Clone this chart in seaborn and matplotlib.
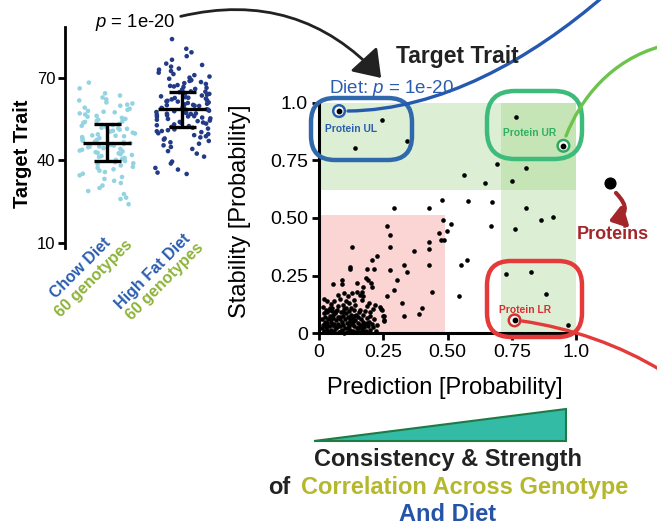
import numpy as np
import pandas as pd
import seaborn as sns
import matplotlib
matplotlib.use("Agg")
import matplotlib.pyplot as plt
from matplotlib.patches import FancyArrowPatch, FancyBboxPatch, Polygon, PathPatch, Rectangle
from matplotlib.path import Path

# ---------------- data ----------------
diets = ["Chow Diet", "High Fat Diet"]
diet_sub = ["60 genotypes", "60 genotypes"]

chow_trait = [68.2, 66.1, 64.3, 63.5, 62.8, 62.1, 61.7, 61.0, 60.6, 60.2, 59.8, 59.1, 58.7, 58.3,
              57.9, 57.4, 57.0, 56.6, 56.1, 55.8, 55.4, 55.0, 54.7, 54.3, 53.9, 53.6, 53.2, 52.8,
              52.5, 52.1, 51.8, 51.4, 51.1, 50.7, 50.4, 50.0, 49.7, 49.4, 49.0, 48.7, 48.4, 48.0,
              47.7, 47.4, 47.1, 46.8, 46.5, 46.2, 45.9, 45.6, 45.3, 45.0, 44.7, 44.4, 44.1, 43.8,
              43.5, 43.2, 42.9, 42.5, 42.2, 41.9, 41.5, 41.2, 40.8, 40.5, 40.1, 39.7, 39.3, 38.9,
              38.5, 38.1, 37.6, 37.2, 36.7, 36.2, 35.7, 35.1, 34.5, 33.9, 33.2, 32.5, 31.7, 30.8,
              29.9, 28.8, 27.7, 26.4, 25.9, 24.0, 48.9, 51.6, 44.9, 54.1, 42.7, 57.6]
hf_trait = [84.0, 80.5, 79.2, 77.8, 76.5, 75.1, 74.6, 74.0, 73.3, 72.9, 72.4, 71.8, 71.3, 70.9,
            70.4, 70.0, 69.6, 69.1, 68.8, 68.4, 68.0, 67.7, 67.3, 67.0, 66.6, 66.3, 65.9, 65.6,
            65.3, 65.0, 64.7, 64.4, 64.1, 63.8, 63.5, 63.2, 62.9, 62.6, 62.4, 62.1, 61.8, 61.6,
            61.3, 61.0, 60.8, 60.5, 60.3, 60.0, 59.8, 59.5, 59.3, 59.0, 58.8, 58.5, 58.3, 58.0,
            57.8, 57.5, 57.3, 57.0, 56.8, 56.5, 56.3, 56.0, 55.8, 55.5, 55.2, 55.0, 54.7, 54.4,
            54.2, 53.9, 53.6, 53.3, 53.0, 52.7, 52.4, 52.1, 51.8, 51.5, 51.2, 50.9, 50.5, 50.2,
            49.8, 49.5, 49.1, 48.7, 48.3, 47.9, 47.5, 47.0, 46.5, 46.0, 45.4, 44.8, 44.1, 43.3,
            42.4, 41.3, 39.5, 38.8, 37.2, 36.6, 35.5, 35.0, 60.1, 57.2, 62.7, 55.9, 64.9, 58.9,
            53.7, 66.8, 50.6, 61.4, 59.7, 56.9]
trait_mean = [46.4, 58.5]
trait_err = [6.7, 6.3]

pred = [0.244, 0.341, 0.140, 0.767, 0.691, 0.805, 0.564, 0.647, 0.751, 0.477, 0.578, 0.674,
        0.293, 0.429, 0.805, 0.481, 0.514, 0.863, 0.909, 0.669, 0.764, 0.265, 0.275, 0.275,
        0.429, 0.429, 0.371, 0.467, 0.497, 0.476, 0.486, 0.575, 0.554, 0.728, 0.824, 0.882,
        0.970, 0.543, 0.438, 0.429, 0.331, 0.341, 0.275, 0.128, 0.224, 0.206, 0.187, 0.214,
        0.119, 0.119, 0.302, 0.292, 0.263, 0.322, 0.332, 0.390, 0.399, 0.241, 0.250, 0.254,
        0.055, 0.088, 0.088, 0.148, 0.171, 0.182, 0.190, 0.201, 0.207, 0.160, 0.171, 0.147,
        0.166, 0.127, 0.114, 0.098, 0.080, 0.072, 0.060, 0.045, 0.030, 0.020, 0.104, 0.118,
        0.135, 0.166, 0.186, 0.195, 0.218, 0.237, 0.244, 0.253, 0.253, 0.140, 0.125, 0.092,
        0.075, 0.052, 0.038, 0.015, 0.160, 0.178, 0.200, 0.210,
        0.010, 0.012, 0.015, 0.018, 0.020, 0.022, 0.025, 0.028, 0.030, 0.032, 0.035, 0.036,
        0.040, 0.042, 0.045, 0.047, 0.050, 0.052, 0.055, 0.058, 0.060, 0.062, 0.065, 0.068,
        0.070, 0.072, 0.075, 0.078, 0.080, 0.082, 0.085, 0.088, 0.090, 0.092, 0.095, 0.098,
        0.100, 0.102, 0.105, 0.108, 0.110, 0.112, 0.115, 0.118, 0.120, 0.122, 0.125, 0.128,
        0.130, 0.133, 0.135, 0.138, 0.140, 0.143, 0.146, 0.150, 0.153, 0.156, 0.160, 0.163,
        0.166, 0.170, 0.173, 0.176, 0.180, 0.184, 0.188, 0.192, 0.196, 0.200, 0.205, 0.210,
        0.215, 0.220, 0.225, 0.018, 0.027, 0.043, 0.063, 0.083, 0.097, 0.117, 0.137, 0.157,
        0.177, 0.197, 0.033, 0.053, 0.073, 0.093, 0.113, 0.133, 0.153, 0.173, 0.105, 0.065,
        0.045, 0.025, 0.085, 0.145, 0.165, 0.185]
stab = [0.925, 0.836, 0.804, 0.939, 0.736, 0.716, 0.688, 0.654, 0.659, 0.580, 0.575, 0.571,
        0.542, 0.542, 0.542, 0.493, 0.474, 0.491, 0.503, 0.464, 0.452, 0.465, 0.425, 0.374,
        0.394, 0.365, 0.355, 0.433, 0.442, 0.404, 0.404, 0.316, 0.297, 0.258, 0.267, 0.170,
        0.036, 0.159, 0.180, 0.297, 0.296, 0.267, 0.275, 0.374, 0.333, 0.316, 0.277, 0.277,
        0.287, 0.280, 0.229, 0.188, 0.159, 0.130, 0.072, 0.081, 0.110, 0.104, 0.072, 0.055,
        0.213, 0.230, 0.213, 0.218, 0.200, 0.240, 0.230, 0.217, 0.200, 0.165, 0.161, 0.180,
        0.180, 0.172, 0.160, 0.175, 0.150, 0.165, 0.140, 0.125, 0.140, 0.150, 0.140, 0.132,
        0.145, 0.143, 0.117, 0.132, 0.122, 0.113, 0.100, 0.074, 0.053, 0.120, 0.110, 0.120,
        0.118, 0.110, 0.100, 0.115, 0.100, 0.095, 0.090, 0.105,
        0.020, 0.060, 0.035, 0.085, 0.010, 0.050, 0.070, 0.025, 0.045, 0.090, 0.005, 0.060,
        0.030, 0.075, 0.015, 0.050, 0.095, 0.035, 0.065, 0.010, 0.040, 0.085, 0.055, 0.020,
        0.100, 0.070, 0.040, 0.005, 0.060, 0.030, 0.090, 0.050, 0.015, 0.075, 0.035, 0.105,
        0.060, 0.020, 0.085, 0.045, 0.005, 0.070, 0.030, 0.095, 0.055, 0.015, 0.080, 0.040,
        0.065, 0.010, 0.100, 0.030, 0.055, 0.080, 0.020, 0.045, 0.070, 0.005, 0.035, 0.060,
        0.015, 0.050, 0.080, 0.025, 0.040, 0.010, 0.065, 0.030, 0.050, 0.015, 0.040, 0.025,
        0.060, 0.010, 0.035, 0.005, 0.100, 0.110, 0.025, 0.070, 0.000, 0.045, 0.075, 0.090,
        0.005, 0.075, 0.015, 0.080, 0.030, 0.090, 0.020, 0.050, 0.020, 0.035, 0.110, 0.095,
        0.060, 0.040, 0.010, 0.005, 0.025, 0.045]

protein_names = ["Protein UL", "Protein UR", "Protein LR"]
protein_pred = [0.078, 0.951, 0.761]
protein_stab = [0.965, 0.814, 0.055]

xticks_main = [0, 0.25, 0.5, 0.75, 1.0]
xticklabels_main = ["0", "0.25", "0.50", "0.75", "1.0"]
yticklabels_main = ["0", "0.25", "0.50", "0.75", "1.0"]
trait_ticks = [10, 40, 70]

# ---------------- style ----------------
sns.set_theme(style="white")
plt.rcParams["font.family"] = ["Liberation Sans", "DejaVu Sans"]
plt.rcParams["mathtext.fontset"] = "custom"
plt.rcParams["mathtext.it"] = "Liberation Sans:italic"
plt.rcParams["mathtext.rm"] = "Liberation Sans"
for k in ["text.color", "axes.labelcolor", "xtick.color", "ytick.color", "axes.edgecolor"]:
    plt.rcParams[k] = "black"

BLUE = "#2a5db0"
OLIVE = "#8db33a"
CHOW_C = "#93d3e2"
HF_C = "#233a86"
RED = "#e53a3a"
GREEN_LOOP = "#3dbb7a"
GREEN_LINE = "#6cc44a"
DARKRED = "#a3262a"

W, H = 657, 527
fig = plt.figure(figsize=(W / 100, H / 100), dpi=100)

def fr(x0, y0, x1, y1):
    return [x0 / W, 1 - y1 / H, (x1 - x0) / W, (y1 - y0) / H]

# ---------------- strip plot ----------------
axS = fig.add_axes(fr(65, 27, 220, 248))
df = pd.DataFrame({"diet": [diets[0]] * len(chow_trait) + [diets[1]] * len(hf_trait),
                   "trait": chow_trait + hf_trait})
np.random.seed(11)
sns.stripplot(data=df, x="diet", y="trait", hue="diet", order=diets, hue_order=diets,
              palette=[CHOW_C, HF_C], jitter=0.38, size=3.3, linewidth=0, legend=False, ax=axS)
for i, (m, e) in enumerate(zip(trait_mean, trait_err)):
    axS.hlines(m, i - 0.32, i + 0.32, color="black", lw=2.4, zorder=5)
    axS.vlines(i, m - e, m + e, color="black", lw=2.4, zorder=5)
    axS.hlines([m - e, m + e], i - 0.18, i + 0.18, color="black", lw=2.4, zorder=5)
axS.set_ylim(8.1, 88.4)
axS.set_xlim(-0.56, 1.5)
axS.set_yticks(trait_ticks)
axS.set_xticks([])
axS.set_xlabel("")
axS.set_ylabel("Target Trait", fontsize=14.5, fontweight="bold")
axS.yaxis.set_label_coords(-0.215, 0.425)
sns.despine(ax=axS, bottom=True)
axS.spines["left"].set_linewidth(2)
axS.tick_params(axis="y", left=True, direction="out", length=5, width=2, labelsize=12, pad=2)
axS.set_facecolor("none")

# ---------------- main scatter ----------------
axM = fig.add_axes(fr(319, 103, 576, 333))
GREEN_SHADE = "#95d07c"
axM.axhspan(0.62, 1.0, color=GREEN_SHADE, alpha=0.32, lw=0, zorder=0)
axM.axvspan(0.71, 1.0, color=GREEN_SHADE, alpha=0.32, lw=0, zorder=0)
axM.add_patch(Rectangle((0, 0), 0.49, 0.515, color="#fbd4d4", lw=0, zorder=0))
sns.scatterplot(x=pred, y=stab, color="black", s=11, linewidth=0, ax=axM, zorder=3, clip_on=False)
ring_colors = [BLUE, "#2fa85f", "#d63030"]
axM.scatter(protein_pred, protein_stab, s=70, facecolor="white", edgecolor=ring_colors,
            linewidth=1.8, zorder=4, clip_on=False)
axM.scatter(protein_pred, protein_stab, s=10, color="black", zorder=5, clip_on=False)
axM.set_xlim(0, 1)
axM.set_ylim(0, 1)
axM.set_xticks(xticks_main)
axM.set_xticklabels(xticklabels_main)
axM.set_yticks(xticks_main)
axM.set_yticklabels(yticklabels_main)
axM.set_xlabel("Prediction [Probability]", fontsize=17)
axM.set_ylabel("Stability [Probability]", fontsize=17)
axM.xaxis.set_label_coords(0.49, -0.19)
axM.yaxis.set_label_coords(-0.265, 0.528)
sns.despine(ax=axM)
for s in ["left", "bottom"]:
    axM.spines[s].set_linewidth(2.2)
axM.tick_params(left=True, bottom=True, direction="out", length=5, width=2, labelsize=14, pad=3)
axM.set_facecolor("none")

# ---------------- overlay annotations ----------------
axO = fig.add_axes([0, 0, 1, 1], zorder=10)
axO.set_xlim(0, W)
axO.set_ylim(H, 0)
axO.axis("off")
axO.patch.set_alpha(0)

# x tick labels of strip plot (two-colour)
for (cx, cy), txt, col in [((81, 268), diets[0], BLUE), ((94, 279), diet_sub[0], OLIVE),
                           ((153, 272), diets[1], BLUE), ((165, 282), diet_sub[1], OLIVE)]:
    axO.text(cx, cy, txt, color=col, fontsize=11.5, fontweight="bold", rotation=45,
             ha="center", va="center", rotation_mode="anchor")

# p-value text and arrow
axO.text(95, 27, "$p$ = 1e-20", fontsize=13.3, ha="left", va="baseline")
arr = FancyArrowPatch((178, 17), (383, 80), connectionstyle="arc3,rad=-0.3",
                      arrowstyle="-|>,head_length=10,head_width=7", lw=2, color="#222222",
                      mutation_scale=1.6)
axO.add_patch(arr)
axO.text(457, 63, "Target Trait", fontsize=16.5, fontweight="bold", ha="center",
         va="baseline", color="#222222")
axO.text(329, 93, "Diet: $p$ = 1e-20", fontsize=13.5, color=BLUE, ha="left", va="baseline")

# loops
axO.add_patch(FancyBboxPatch((311, 98), 101, 62, boxstyle="round,pad=0,rounding_size=24",
                             fill=False, ec="#2f69ac", lw=3.2))
axO.add_patch(FancyBboxPatch((487, 91), 95, 68, boxstyle="round,pad=0,rounding_size=28",
                             fill=False, ec=GREEN_LOOP, lw=3.2))
axO.add_patch(FancyBboxPatch((487, 261), 95, 76, boxstyle="round,pad=0,rounding_size=24",
                             fill=False, ec=RED, lw=3.2))

def bez(p0, p1, p2, p3, col, lw=2.4):
    path = Path([p0, p1, p2, p3], [Path.MOVETO, Path.CURVE4, Path.CURVE4, Path.CURVE4])
    axO.add_patch(PathPatch(path, fill=False, ec=col, lw=lw, capstyle="round"))

bez((348, 111), (440, 110), (530, 60), (605, -5), "#2559b0")
bez((566, 136), (580, 100), (610, 60), (662, 46), GREEN_LINE)
bez((522, 321), (570, 328), (620, 345), (662, 371), RED)

axO.text(325, 132, protein_names[0], fontsize=7.4, fontweight="bold", color="#2a5db0",
         ha="left", va="baseline")
axO.text(503, 136, protein_names[1], fontsize=7.4, fontweight="bold", color="#2fb060",
         ha="left", va="baseline")
axO.text(499, 313, protein_names[2], fontsize=7.4, fontweight="bold", color="#d63030",
         ha="left", va="baseline")

# proteins icon
axO.scatter([610], [183], s=60, color="black", zorder=5)
axO.add_patch(FancyArrowPatch((614, 191), (606, 222), connectionstyle="arc3,rad=-0.9",
                              arrowstyle="-|>,head_length=7,head_width=5", lw=3,
                              color=DARKRED, mutation_scale=1.3))
axO.text(613, 239, "Proteins", fontsize=13, fontweight="bold", color=DARKRED,
         ha="center", va="baseline")

# wedge
axO.add_patch(Polygon([(314, 441), (566, 409), (566, 441)], closed=True,
                      fc="#33bba6", ec="#1f7a45", lw=1.5))

axO.text(448, 466, "Consistency & Strength", fontsize=17, fontweight="bold",
         color="#222222", ha="center", va="baseline")
axO.text(268, 494, "of", fontsize=17, fontweight="bold", color="#222222",
         ha="left", va="baseline")
axO.text(628, 494, "Correlation Across Genotype", fontsize=17, fontweight="bold",
         color="#b5b82d", ha="right", va="baseline")
axO.text(448, 521, "And Diet", fontsize=17, fontweight="bold", color="#2553a8",
         ha="center", va="baseline")

fig.savefig("out.png", dpi=100)
